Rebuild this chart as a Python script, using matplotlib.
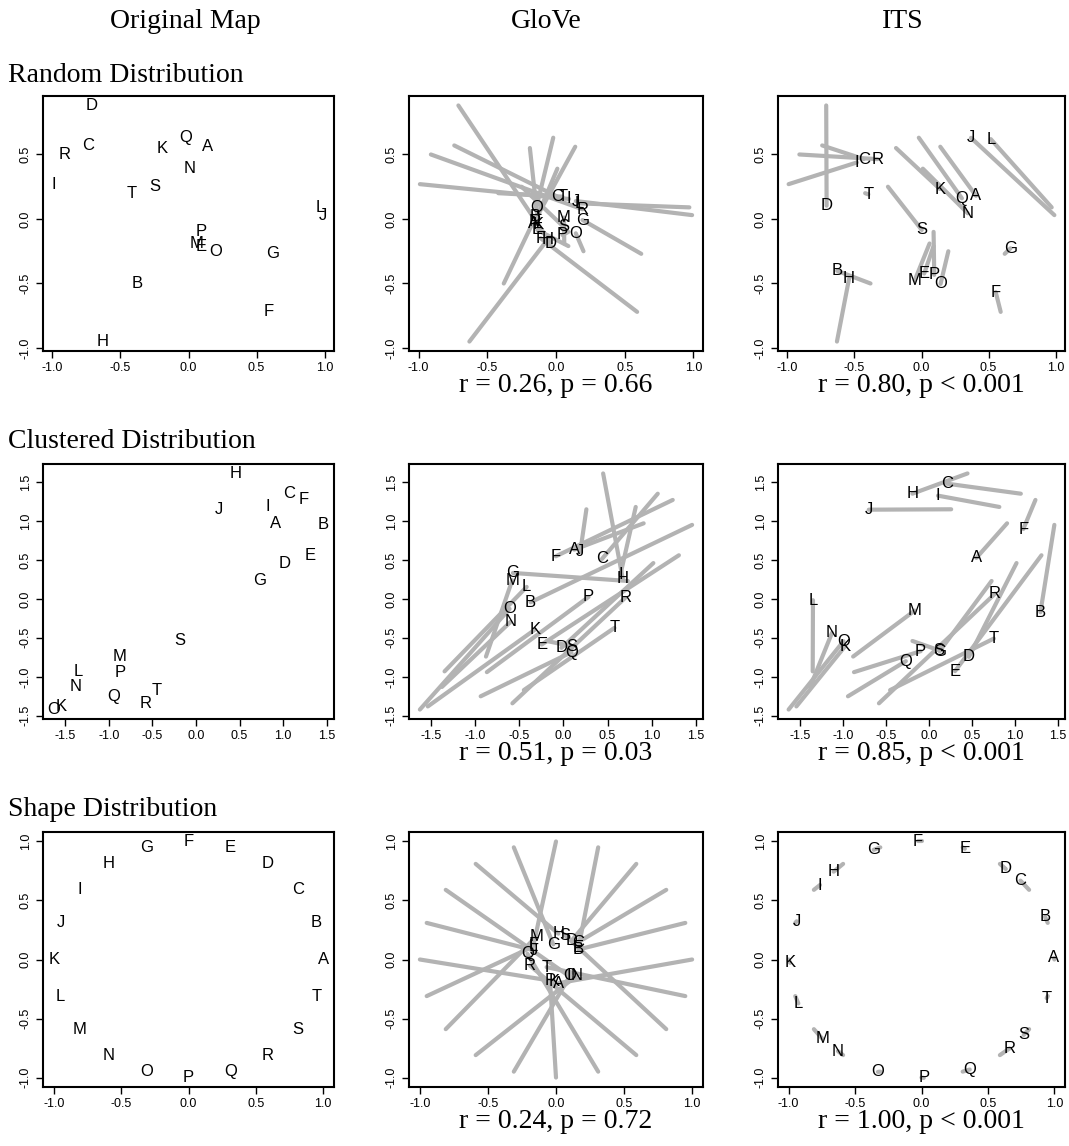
import matplotlib.pyplot as plt

plt.rcParams['axes.unicode_minus'] = False

letters = list('ABCDEFGHIJKLMNOPQRST')

# --- Random distribution ---
rand_orig_x = [0.14, -0.38, -0.74, -0.71, 0.09, 0.59, 0.62, -0.63, -0.99, 0.99,
               -0.19, 0.97, 0.06, 0.01, 0.20, 0.09, -0.02, -0.91, -0.25, -0.42]
rand_orig_y = [0.56, -0.50, 0.57, 0.88, -0.21, -0.72, -0.27, -0.95, 0.27, 0.03,
               0.55, 0.09, -0.19, 0.39, -0.25, -0.10, 0.63, 0.50, 0.25, 0.20]
rand_glove_x = [-0.165, -0.148, 0.010, -0.039, -0.136, -0.112, 0.193, -0.063, 0.095, 0.144,
                -0.129, 0.168, 0.058, -0.153, 0.144, 0.047, -0.143, 0.193, 0.054, 0.047]
rand_glove_y = [-0.034, 0.018, 0.173, -0.188, -0.085, -0.149, -0.008, -0.162, 0.155, 0.139,
                -0.046, 0.121, 0.011, -0.021, -0.111, -0.124, 0.088, 0.075, -0.059, 0.173]
rand_its_x = [0.406, -0.628, -0.430, -0.707, 0.020, 0.553, 0.663, -0.540, -0.482, 0.369,
              0.137, 0.516, -0.051, 0.345, 0.142, 0.095, 0.301, -0.328, 0.002, -0.396]
rand_its_y = [0.180, -0.402, 0.464, 0.103, -0.423, -0.567, -0.227, -0.464, 0.438, 0.629,
              0.232, 0.619, -0.477, 0.044, -0.503, -0.433, 0.160, 0.464, -0.085, 0.191]

# --- Clustered distribution ---
clus_orig_x = [0.91, 1.46, 1.07, 1.02, 1.31, 1.24, 0.73, 0.45, 0.82, 0.26,
               -1.54, -1.35, -0.88, -1.38, -1.63, -0.87, -0.94, -0.58, -0.19, -0.45]
clus_orig_y = [0.97, 0.95, 1.35, 0.46, 0.56, 1.27, 0.23, 1.61, 1.18, 1.15,
               -1.38, -0.93, -0.74, -1.13, -1.42, -0.94, -1.25, -1.34, -0.54, -1.17]
clus_glove_x = [0.122, -0.373, 0.437, -0.023, -0.247, -0.087, -0.574, 0.673, 0.646, 0.190,
                -0.323, -0.418, -0.582, -0.601, -0.612, 0.285, 0.091, 0.700, 0.095, 0.578]
clus_glove_y = [0.632, -0.043, 0.513, -0.628, -0.585, 0.547, 0.333, 0.256, 0.312, 0.603,
                -0.393, 0.154, 0.239, -0.295, -0.128, 0.026, -0.684, 0.013, -0.607, -0.372]
clus_its_x = [0.553, 1.298, 0.210, 0.466, 0.305, 1.099, 0.126, -0.191, 0.107, -0.698,
              -0.973, -1.347, -0.164, -1.126, -0.992, -0.095, -0.267, 0.771, 0.115, 0.756]
clus_its_y = [0.526, -0.171, 1.479, -0.744, -0.927, 0.897, -0.671, 1.350, 1.325, 1.145,
              -0.607, -0.017, -0.150, -0.436, -0.543, -0.671, -0.799, 0.068, -0.658, -0.509]

# --- Shape distribution ---
shape_orig_x = [1.00, 0.95, 0.81, 0.59, 0.31, 0.00, -0.31, -0.59, -0.81, -0.95,
                -1.00, -0.95, -0.81, -0.59, -0.31, 0.00, 0.31, 0.59, 0.81, 0.95]
shape_orig_y = [0.00, 0.31, 0.59, 0.81, 0.95, 1.00, 0.95, 0.81, 0.59, 0.31,
                0.00, -0.31, -0.59, -0.81, -0.95, -1.00, -0.95, -0.81, -0.59, -0.31]
shape_glove_x = [0.020, 0.165, 0.165, 0.116, 0.165, -0.165, -0.020, 0.017, 0.091, -0.160,
                 -0.010, -0.168, -0.143, 0.153, 0.104, -0.044, -0.210, -0.192, 0.067, -0.069]
shape_glove_y = [-0.200, 0.085, 0.148, 0.162, 0.100, 0.125, 0.128, 0.219, -0.136, 0.077,
                 -0.185, 0.110, 0.196, -0.136, -0.136, -0.179, 0.048, -0.051, 0.205, -0.065]
shape_its_x = [0.996, 0.930, 0.745, 0.634, 0.326, -0.025, -0.360, -0.661, -0.764, -0.940,
               -0.989, -0.927, -0.747, -0.629, -0.328, 0.017, 0.363, 0.663, 0.769, 0.942]
shape_its_y = [0.014, 0.361, 0.668, 0.767, 0.938, 1.000, 0.929, 0.744, 0.631, 0.324,
               -0.028, -0.372, -0.670, -0.776, -0.952, -1.003, -0.932, -0.753, -0.639, -0.327]

ticks_1 = [-1.0, -0.5, 0.0, 0.5, 1.0]
ticks_15 = [-1.5, -1.0, -0.5, 0.0, 0.5, 1.0, 1.5]

col_headers = ['Original Map', 'GloVe', 'ITS']
row_titles = ['Random Distribution', 'Clustered Distribution', 'Shape Distribution']
stats = [['r = 0.26, p = 0.66', 'r = 0.80, p < 0.001'],
         ['r = 0.51, p = 0.03', 'r = 0.85, p < 0.001'],
         ['r = 0.24, p = 0.72', 'r = 1.00, p < 0.001']]

rows = [
    (rand_orig_x, rand_orig_y, [(rand_glove_x, rand_glove_y), (rand_its_x, rand_its_y)], ticks_1),
    (clus_orig_x, clus_orig_y, [(clus_glove_x, clus_glove_y), (clus_its_x, clus_its_y)], ticks_15),
    (shape_orig_x, shape_orig_y, [(shape_glove_x, shape_glove_y), (shape_its_x, shape_its_y)], ticks_1),
]

W, H = 1069, 1146
fig = plt.figure(figsize=(W / 100, H / 100), dpi=100)

col_left = [43, 409, 778]
col_width = [291, 294, 287]
row_top = [96, 464, 832]
row_h = 255

serif = 'Liberation Serif'
sans = 'Liberation Sans'


def r_lims(v):
    # R style: range padded 4% on each side
    lo, hi = min(v), max(v)
    pad = 0.04 * (hi - lo)
    return lo - pad, hi + pad


def style_axes(ax, ox, oy, ticks):
    ax.set_xlim(r_lims(ox))
    ax.set_ylim(r_lims(oy))
    xl, yl = ax.get_xlim(), ax.get_ylim()
    ax.set_xticks([t for t in ticks if xl[0] <= t <= xl[1]])
    ax.set_yticks([t for t in ticks if yl[0] <= t <= yl[1]])
    ax.xaxis.set_major_formatter(plt.FormatStrFormatter('%.1f'))
    ax.yaxis.set_major_formatter(plt.FormatStrFormatter('%.1f'))
    for s in ax.spines.values():
        s.set_linewidth(1.5)
    ax.tick_params(direction='out', length=5, width=1, labelsize=9, pad=3)
    ax.tick_params(axis='y', labelrotation=90)
    for lab in ax.get_xticklabels() + ax.get_yticklabels():
        lab.set_family(sans)
    for lab in ax.get_yticklabels():
        lab.set_va('center')


for r, (ox, oy, ests, ticks) in enumerate(rows):
    for c in range(3):
        ax = fig.add_axes([col_left[c] / W, 1 - (row_top[r] + row_h) / H,
                           col_width[c] / W, row_h / H])
        style_axes(ax, ox, oy, ticks)
        if c == 0:
            px, py = ox, oy
        else:
            px, py = ests[c - 1]
            for i in range(len(letters)):
                ax.plot([ox[i], px[i]], [oy[i], py[i]], color='#b3b3b3', lw=3,
                        solid_capstyle='round', zorder=1)
        for i, let in enumerate(letters):
            ax.text(px[i], py[i], let, ha='center', va='center', fontsize=12,
                    family=sans, zorder=3)
        if c > 0:
            cx = (col_left[c] + col_width[c] / 2) / W
            fig.text(cx, 1 - (row_top[r] + row_h + 41) / H, stats[r][c - 1],
                     ha='center', va='baseline', fontsize=20, family=serif)

header_x = [185, 546, 903]
for c, t in enumerate(col_headers):
    fig.text(header_x[c] / W, 1 - 22 / H, t, ha='center', va='center',
             fontsize=20, family=serif)

title_y = [75, 442, 810]
for r, t in enumerate(row_titles):
    fig.text(8 / W, 1 - title_y[r] / H, t, ha='left', va='center',
             fontsize=20, family=serif)

fig.savefig('out.png', dpi=100)
